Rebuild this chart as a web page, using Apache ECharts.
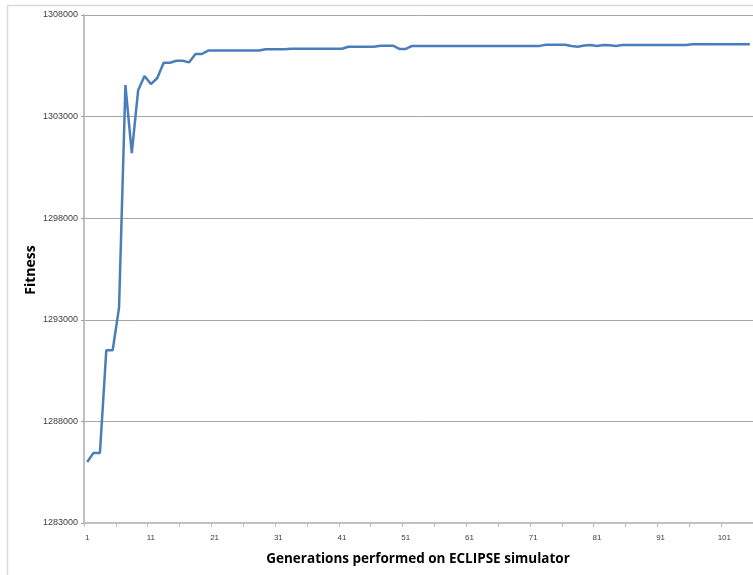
<!DOCTYPE html>
<html>
<head>
<meta charset="utf-8">
<script src="https://cdn.jsdelivr.net/npm/echarts@6/dist/echarts.min.js"></script>
<style>
  html, body { margin: 0; padding: 0; background: #fff; }
  #chart { width: 753px; height: 575px; }
</style>
</head>
<body>
<div id="chart"></div>
<script>
// Generation numbers along the x axis
const generations = [
  1, 2, 3, 4, 5, 6, 7, 8, 9, 10,
  11, 12, 13, 14, 15, 16, 17, 18, 19, 20,
  21, 22, 23, 24, 25, 26, 27, 28, 29, 30,
  31, 32, 33, 34, 35, 36, 37, 38, 39, 40,
  41, 42, 43, 44, 45, 46, 47, 48, 49, 50,
  51, 52, 53, 54, 55, 56, 57, 58, 59, 60,
  61, 62, 63, 64, 65, 66, 67, 68, 69, 70,
  71, 72, 73, 74, 75, 76, 77, 78, 79, 80,
  81, 82, 83, 84, 85, 86, 87, 88, 89, 90,
  91, 92, 93, 94, 95, 96, 97, 98, 99, 100,
  101, 102, 103, 104, 105
];

// Best fitness found in each generation
const fitness = [
  1286000, 1286450, 1286450, 1291500, 1291500, 1293600, 1304550, 1301200, 1304300, 1305000,
  1304600, 1304900, 1305650, 1305650, 1305750, 1305750, 1305670, 1306080, 1306080, 1306250,
  1306250, 1306250, 1306250, 1306250, 1306250, 1306250, 1306250, 1306250, 1306310, 1306310,
  1306310, 1306310, 1306340, 1306340, 1306340, 1306340, 1306340, 1306340, 1306340, 1306340,
  1306340, 1306440, 1306440, 1306440, 1306440, 1306440, 1306490, 1306490, 1306490, 1306330,
  1306330, 1306480, 1306480, 1306480, 1306480, 1306480, 1306480, 1306480, 1306480, 1306480,
  1306480, 1306480, 1306480, 1306480, 1306480, 1306480, 1306480, 1306480, 1306480, 1306480,
  1306480, 1306480, 1306540, 1306540, 1306540, 1306540, 1306470, 1306440, 1306500, 1306520,
  1306480, 1306520, 1306510, 1306470, 1306520, 1306520, 1306520, 1306520, 1306520, 1306520,
  1306520, 1306520, 1306520, 1306520, 1306520, 1306560, 1306560, 1306560, 1306560, 1306560,
  1306560, 1306560, 1306560, 1306560, 1306560
];

// Value axis range and step
const yMin = 1283000;
const yMax = 1308000;
const yStep = 5000;

const xTitle = 'Generations performed on ECLIPSE simulator';
const yTitle = 'Fitness';

const chart = echarts.init(document.getElementById('chart'), null, { renderer: 'canvas' });

chart.setOption({
  animation: false,
  backgroundColor: '#ffffff',
  textStyle: { fontFamily: 'Liberation Sans, Arial, sans-serif' },
  graphic: [
    {
      // outer chart-area frame
      type: 'rect',
      shape: { x: 7.5, y: 5.5, width: 800, height: 620 },
      style: { fill: 'none', stroke: '#d9d9d9', lineWidth: 1.5 },
      silent: true,
      z: -1
    },
    {
      type: 'text',
      x: 418,
      y: 559,
      style: {
        text: xTitle,
        font: 'bold 13.5px "Open Sans", "Liberation Sans", sans-serif',
        fill: '#000000',
        align: 'center',
        verticalAlign: 'middle'
      }
    },
    {
      type: 'text',
      x: 31,
      y: 270,
      rotation: Math.PI / 2,
      style: {
        text: yTitle,
        font: 'bold 14px "Open Sans", "Liberation Sans", sans-serif',
        fill: '#000000',
        align: 'center',
        verticalAlign: 'middle'
      }
    }
  ],
  grid: {
    left: 84,
    top: 15,
    right: 0,
    bottom: 52,
    containLabel: false
  },
  xAxis: {
    type: 'category',
    data: generations,
    boundaryGap: true,
    axisLine: { show: true, lineStyle: { color: '#c0c0c0', width: 2 } },
    axisTick: {
      show: true,
      interval: 4,
      length: 4,
      lineStyle: { color: '#c0c0c0', width: 1 }
    },
    axisLabel: {
      interval: 9,
      fontSize: 8,
      color: '#404040',
      margin: 11
    },
    splitLine: { show: false }
  },
  yAxis: {
    type: 'value',
    min: yMin,
    max: yMax,
    interval: yStep,
    axisLine: { show: true, lineStyle: { color: '#c0c0c0', width: 2 } },
    axisTick: { show: true, length: 3, lineStyle: { color: '#a0a0a0' } },
    axisLabel: {
      fontSize: 9,
      color: '#404040',
      margin: 6,
      formatter: function (v) { return String(v); }
    },
    splitLine: { show: true, lineStyle: { color: '#a6a6a6', width: 1 } }
  },
  series: [
    {
      type: 'line',
      data: fitness,
      symbol: 'none',
      lineStyle: { color: '#4a7ebb', width: 2.5 },
      itemStyle: { color: '#4a7ebb' }
    }
  ]
});
</script>
</body>
</html>
